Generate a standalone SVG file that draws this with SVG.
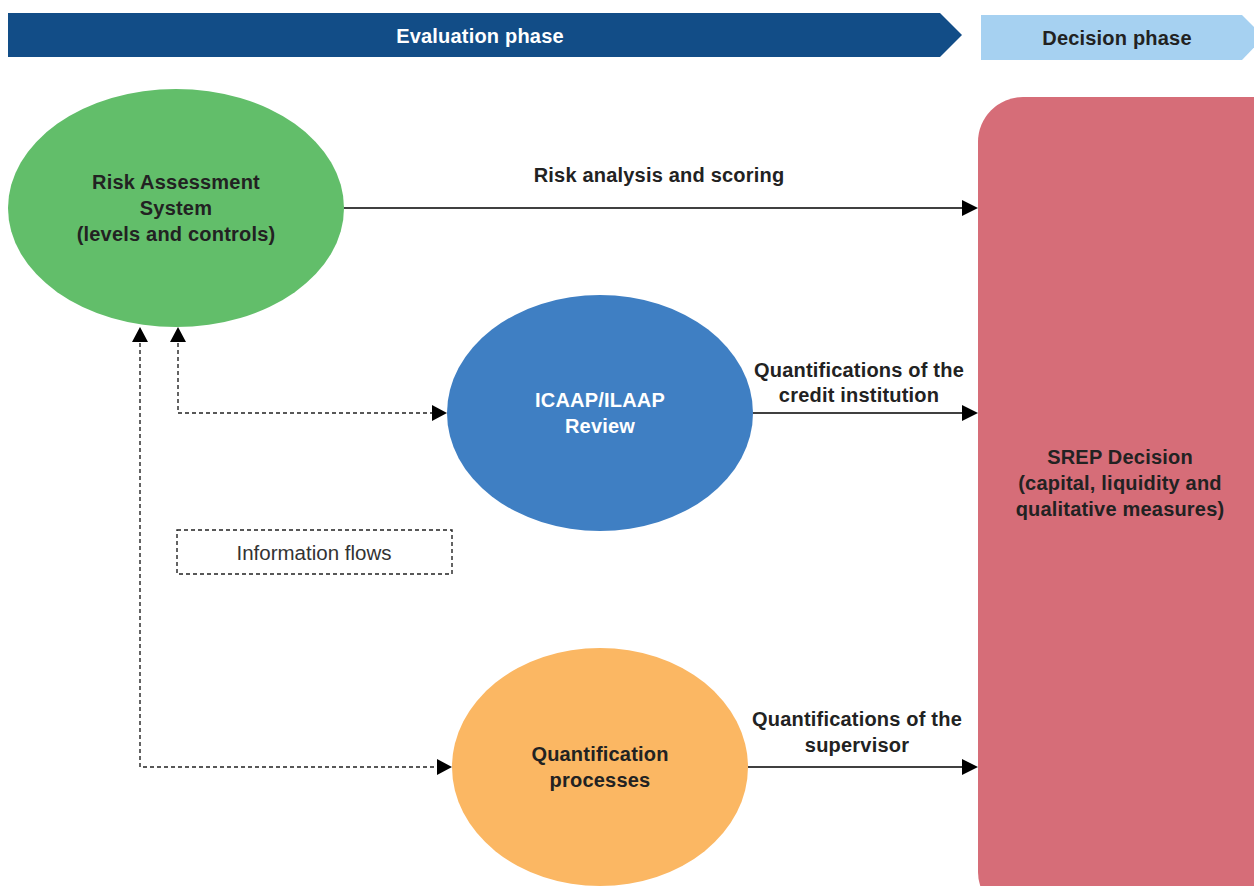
<svg xmlns="http://www.w3.org/2000/svg" width="1254" height="886" viewBox="0 0 1254 886">
  <defs>
    <style>
      .lbl { font-family: "Liberation Sans", Arial, sans-serif; font-size: 20px; font-weight: bold; fill: #222; text-anchor: middle; letter-spacing: 0.2px; }
      .white { fill: #fff; }
      .solid { stroke: #000; stroke-width: 1.5; fill: none; }
      .dash { stroke: #222; stroke-width: 1.4; fill: none; stroke-dasharray: 4 3; }
      .note { font-family: "Liberation Sans", Arial, sans-serif; font-size: 20.5px; fill: #333; text-anchor: middle; }
      .head { fill: #000; }
    </style>
  </defs>
  <rect width="1254" height="886" fill="#fff"/>

  <!-- phase banners -->
  <g id="evaluation-phase">
    <polygon points="8,13 940,13 962,35 940,57 8,57" fill="#124d87"/>
    <text class="lbl white" x="480" y="43">Evaluation phase</text>
  </g>
  <g id="decision-phase">
    <polygon points="981,15 1242,15 1264,37 1242,60 981,60" fill="#a6d1f1"/>
    <text class="lbl" x="1117" y="45">Decision phase</text>
  </g>

  <!-- nodes -->
  <g id="risk-assessment">
    <ellipse cx="176" cy="208" rx="168" ry="119" fill="#62be6a"/>
    <text class="lbl" x="176" y="189">Risk Assessment</text>
    <text class="lbl" x="176" y="215">System</text>
    <text class="lbl" x="176" y="241">(levels and controls)</text>
  </g>
  <g id="icaap-review">
    <ellipse cx="600" cy="413" rx="153" ry="118" fill="#3f7fc3"/>
    <text class="lbl white" x="600" y="407">ICAAP/ILAAP</text>
    <text class="lbl white" x="600" y="433">Review</text>
  </g>
  <g id="quantification">
    <ellipse cx="600" cy="767" rx="148" ry="119" fill="#fbb763"/>
    <text class="lbl" x="600" y="761">Quantification</text>
    <text class="lbl" x="600" y="787">processes</text>
  </g>
  <g id="srep-decision">
    <rect x="978" y="97" width="320" height="820" rx="45" fill="#d66d78"/>
    <text class="lbl" x="1120" y="464">SREP Decision</text>
    <text class="lbl" x="1120" y="490">(capital, liquidity and</text>
    <text class="lbl" x="1120" y="516">qualitative measures)</text>
  </g>
  <g id="legend">
    <rect class="dash" x="177" y="530" width="275" height="44"/>
    <text class="note" x="314" y="560">Information flows</text>
  </g>

  <!-- connectors -->
  <g id="connectors">
    <line class="solid" x1="344" y1="208" x2="964" y2="208"/>
    <line class="solid" x1="753" y1="413" x2="964" y2="413"/>
    <line class="solid" x1="748" y1="767" x2="964" y2="767"/>
    <path class="head" d="M962,200 L978,208 L962,216 z"/>
    <path class="head" d="M962,405 L978,413 L962,421 z"/>
    <path class="head" d="M962,759 L978,767 L962,775 z"/>
    <polyline class="dash" points="178,343 178,413 435,413"/>
    <polyline class="dash" points="140,343 140,767 440,767"/>
    <path class="head" d="M170,342 L178,327 L186,342 z"/>
    <path class="head" d="M132,342 L140,327 L148,342 z"/>
    <path class="head" d="M432,405 L447,413 L432,421 z"/>
    <path class="head" d="M437,759 L452,767 L437,775 z"/>
    <text class="lbl" x="659" y="182">Risk analysis and scoring</text>
    <text class="lbl" x="859" y="377">Quantifications of the</text>
    <text class="lbl" x="859" y="402">credit institution</text>
    <text class="lbl" x="857" y="726">Quantifications of the</text>
    <text class="lbl" x="857" y="752">supervisor</text>
  </g>
</svg>
